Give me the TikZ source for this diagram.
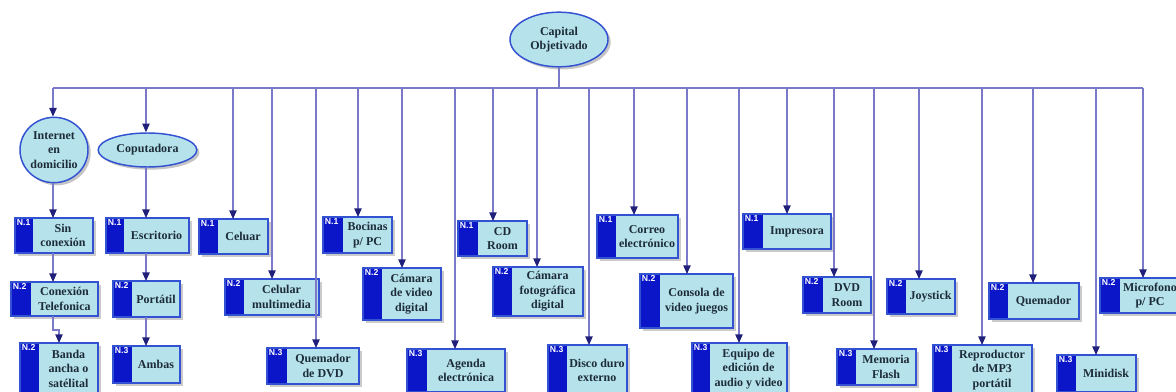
\documentclass[tikz,border=0pt]{standalone}
\usepackage{fontspec}
\setmainfont{Liberation Serif}
\setsansfont{Liberation Sans}
\usetikzlibrary{arrows.meta,shapes.geometric,shadows}

\definecolor{bodyfill}{HTML}{B6E2EC}
\definecolor{stripfill}{HTML}{0A16C8}
\definecolor{edgeblue}{HTML}{3352D2}
\definecolor{linkline}{HTML}{7A7AC8}
\definecolor{tipnavy}{HTML}{20207A}
\definecolor{inkdark}{HTML}{1C2C38}

\tikzset{
  x=0.75pt, y=-0.75pt,
  label font/.style={font=\bfseries\fontsize{9}{10.8}\selectfont, text=inkdark, align=center},
  bodybox/.style={label font, inner sep=0pt, outer sep=0pt, fill=bodyfill},
  boxborder/.style={draw=edgeblue, line width=0.9pt},
  boxshadow/.style={fill=black!40, opacity=0.5},
  lvlabel/.style={font=\sffamily\bfseries\fontsize{6.5}{7}\selectfont, text=white, inner sep=1.2pt},
  oval/.style={ellipse, draw=edgeblue, line width=1.1pt, fill=bodyfill, label font,
    inner sep=0pt, drop shadow={shadow xshift=2pt, shadow yshift=-2pt, fill=black!45, opacity=0.5}},
  link/.style={draw=linkline, line width=1pt},
  arrowlink/.style={link, -{Triangle[width=5.5pt, length=6.5pt, color=tipnavy]}},
}

% level box: name, x1, y1, strip edge, x2, y2, level tag, text
\newcommand\lvbox[8]{%
  \fill[boxshadow] (#2+3,#3+3) rectangle (#5+3,#6+3);
  \fill[stripfill] (#2,#3) rectangle (#4,#6);
  \node[bodybox, minimum width={(#5-#4)*0.75pt}, minimum height={(#6-#3)*0.75pt}]
    (#1) at ({(#4+#5)/2},{(#3+#6)/2}) {#8};
  \draw[boxborder] (#2,#3) rectangle (#5,#6);
  \node[lvlabel, anchor=north west] (#1-lv) at (#2,#3) {#7};
}

\begin{document}
\begin{tikzpicture}
\useasboundingbox[fill=white] (0,0) rectangle (1176,392);

% root and the two oval categories
\node[oval, minimum width=73.5pt, minimum height=41pt] (capital) at (559,39.5) {Capital\\Objetivado};
\node[oval, minimum width=51pt, minimum height=49pt] (internet) at (54,150) {Internet\\en\\domicilio};
\node[oval, minimum width=74pt, minimum height=25.5pt] (coputadora) at (147.5,150) {Coputadora};

% points where each branch leaves the bus
\foreach \n/\x in {1/53,2/146,3/233,4/272,5/316,6/358,7/402,8/455,9/493,10/537,11/589,
                   12/634,13/687,14/739,15/787,16/834,17/874,18/919,19/982,20/1033,21/1096,22/1143}
  \coordinate (d\n) at (\x,88);
\coordinate (bandain) at (59,343);

% branch lines (drawn under the boxes)
\draw[link] (capital.south) -- (capital.south |- d1);
\draw[link] (d1) -- (d22);

% level boxes
\lvbox{sincon}{15}{218}{33}{93}{253}{N.1}{Sin\\conexión}
\lvbox{conexion}{11}{282}{31}{98}{316}{N.2}{Conexión\\Telefonica}
\lvbox{banda}{20}{343}{39}{98}{394}{N.2}{Banda\\ancha o\\satélital}
\lvbox{escritorio}{106}{218}{124}{189}{253}{N.1}{Escritorio}
\lvbox{portatil}{113}{281}{132}{180}{317}{N.2}{Portátil}
\lvbox{ambas}{113}{346}{132}{180}{383}{N.3}{Ambas}
\lvbox{celuar}{199}{219}{218}{268}{254}{N.1}{Celuar}
\lvbox{celmulti}{225}{279}{244}{319}{315}{N.2}{Celular\\multimedia}
\lvbox{quemdvd}{267}{348}{287}{359}{384}{N.3}{Quemador\\de DVD}
\lvbox{bocinas}{323}{217}{343}{392}{253}{N.1}{Bocinas\\p/ PC}
\lvbox{camvideo}{363}{268}{382}{441}{320}{N.2}{Cámara\\de video\\digital}
\lvbox{agenda}{407}{349}{427}{505}{392}{N.3}{Agenda\\electrónica}
\lvbox{cdroom}{458}{221}{478}{527}{256}{N.1}{CD\\Room}
\lvbox{camfoto}{493}{267}{512}{583}{316}{N.2}{Cámara\\fotográfica\\digital}
\lvbox{disco}{548}{345}{567}{627}{396}{N.3}{Disco duro\\externo}
\lvbox{correo}{597}{215}{616}{678}{258}{N.1}{Correo\\electrónico}
\lvbox{consola}{640}{274}{660}{733}{328}{N.2}{Consola de\\video juegos}
\lvbox{equipo}{692}{343}{710}{787}{395}{N.3}{Equipo de\\edición de\\audio y video}
\lvbox{impresora}{743}{214}{763}{831}{249}{N.1}{Impresora}
\lvbox{dvdroom}{803}{277}{823}{871}{313}{N.2}{DVD\\Room}
\lvbox{memoria}{837}{349}{856}{916}{385}{N.3}{Memoria\\Flash}
\lvbox{joystick}{887}{279}{906}{955}{314}{N.2}{Joystick}
\lvbox{mp3}{933}{345}{952}{1032}{395}{N.3}{Reproductor\\de MP3\\portátil}
\lvbox{quemador}{989}{283}{1008}{1079}{319}{N.2}{Quemador}
\lvbox{minidisk}{1057}{355}{1076}{1136}{392}{N.3}{Minidisk}
\lvbox{microfono}{1100}{278}{1120}{1180}{313}{N.2}{Microfono\\p/ PC}

% drops from the bus
\draw[arrowlink] (d1) -- (d1 |- internet.north);
\draw[arrowlink] (d2) -- (d2 |- coputadora.north);
\foreach \n/\t in {3/celuar,4/celmulti,5/quemdvd,6/bocinas,7/camvideo,8/agenda,9/cdroom,
                   10/camfoto,11/disco,12/correo,13/consola,14/equipo,15/impresora,16/dvdroom,
                   17/memoria,18/joystick,19/mp3,20/quemador,21/minidisk,22/microfono}
  \draw[arrowlink] (d\n) -- (d\n |- \t.north);

% chains under the two ovals
\draw[arrowlink] (d1 |- internet.south) -- (d1 |- sincon.north);
\draw[arrowlink] (d1 |- sincon.south) -- (d1 |- conexion.north);
\draw[arrowlink] (d1 |- conexion.south) -- ++(0,14) -| (bandain);
\draw[arrowlink] (d2 |- coputadora.south) -- (d2 |- escritorio.north);
\draw[arrowlink] (d2 |- escritorio.south) -- (d2 |- portatil.north);
\draw[arrowlink] (d2 |- portatil.south) -- (d2 |- ambas.north);
\end{tikzpicture}
\end{document}
